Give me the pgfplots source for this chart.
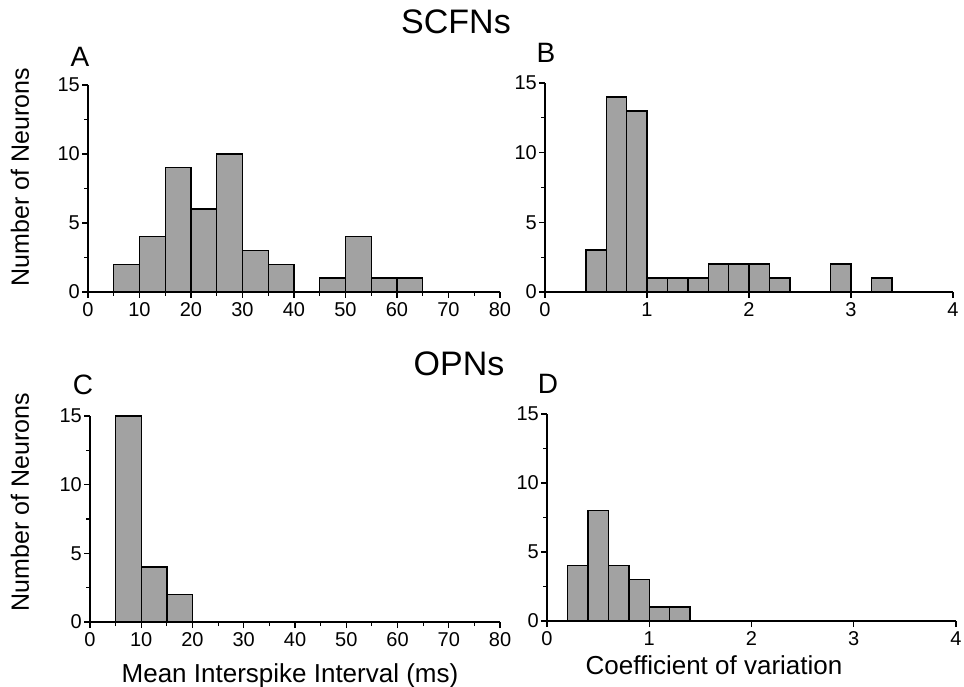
\documentclass[border=0pt]{standalone}
\usepackage{pgfplots}
\pgfplotsset{compat=1.18}
\usepackage{fontspec}
\setmainfont{Liberation Sans}
\definecolor{barfill}{RGB}{162,162,162}
\pgfplotsset{
  hist/.style={
    scale only axis,
    axis x line*=bottom,
    axis y line*=left,
    axis line style={line width=1.3bp, black},
    ymin=0, ymax=15,
    ytick={0,5,10,15},
    minor y tick num=1,
    tick align=outside,
    major tick length=6bp,
    minor tick length=4bp,
    every tick/.style={black, line width=1.2bp},
    clip=false,
    /pgf/number format/assume math mode=true,
    tick label style={font=\fontsize{20bp}{23bp}\selectfont},
    yticklabel style={inner sep=2bp},
    xticklabel style={inner sep=4.5bp},
  },
  histA/.style={hist, xmin=0, xmax=80, xtick={0,10,...,80}, minor x tick num=1},
  histB/.style={hist, xmin=0, xmax=4, xtick={0,1,2,3,4}},
  bars/.style={ybar, bar shift=0pt, fill=barfill, draw=black, line width=1.4bp},
}
\begin{document}
\begin{tikzpicture}
\useasboundingbox (0bp,0bp) rectangle (964bp,687bp);

% Panel A
\begin{axis}[histA, at={(88bp,395bp)}, anchor=south west, width=412bp, height=207bp]
\addplot[bars, bar width=5] coordinates {
(7.5,2) (12.5,4) (17.5,9) (22.5,6) (27.5,10) (32.5,3) (37.5,2)
(47.5,1) (52.5,4) (57.5,1) (62.5,1)};
\end{axis}

% Panel B
\begin{axis}[histB, at={(545bp,395bp)}, anchor=south west, width=408bp, height=209bp]
\addplot[bars, bar width=0.2] coordinates {
(0.5,3) (0.7,14) (0.9,13) (1.1,1) (1.3,1) (1.5,1) (1.7,2) (1.9,2)
(2.1,2) (2.3,1) (2.9,2) (3.3,1)};
\end{axis}

% Panel C
\begin{axis}[histA, at={(90bp,65bp)}, anchor=south west, width=410bp, height=206bp]
\addplot[bars, bar width=5] coordinates {
(7.5,15) (12.5,4) (17.5,2)};
\end{axis}

% Panel D
\begin{axis}[histB, at={(547bp,66bp)}, anchor=south west, width=409bp, height=207bp]
\addplot[bars, bar width=0.2] coordinates {
(0.3,4) (0.5,8) (0.7,4) (0.9,3) (1.1,1) (1.3,1)};
\end{axis}

% Titles and labels
\node[font=\fontsize{34bp}{40bp}\selectfont] at (456bp,665bp) {SCFNs};
\node[font=\fontsize{34bp}{40bp}\selectfont] at (459bp,323bp) {OPNs};
\node[font=\fontsize{28bp}{32bp}\selectfont] at (80bp,630bp) {A};
\node[font=\fontsize{28bp}{32bp}\selectfont] at (546bp,634bp) {B};
\node[font=\fontsize{28bp}{32bp}\selectfont] at (83bp,302bp) {C};
\node[font=\fontsize{28bp}{32bp}\selectfont] at (548bp,303bp) {D};
\node[rotate=90, font=\fontsize{25bp}{30bp}\selectfont] at (20bp,510bp) {Number of Neurons};
\node[rotate=90, font=\fontsize{25bp}{30bp}\selectfont] at (20bp,185bp) {Number of Neurons};
\node[anchor=base, font=\fontsize{26bp}{30bp}\selectfont] at (290bp,5bp) {Mean Interspike Interval (ms)};
\node[anchor=base, font=\fontsize{26bp}{30bp}\selectfont] at (714bp,13bp) {Coefficient of variation};
\end{tikzpicture}
\end{document}
